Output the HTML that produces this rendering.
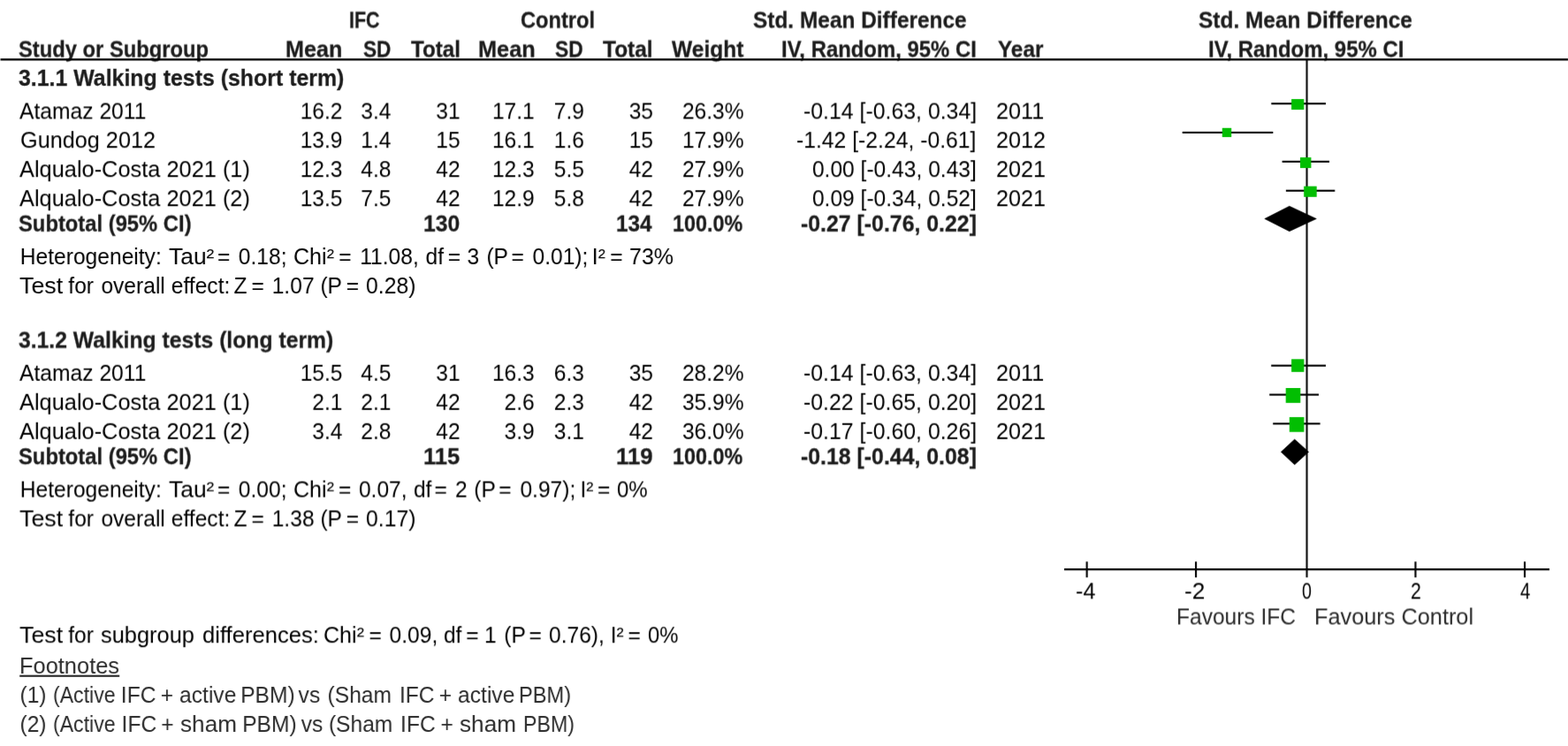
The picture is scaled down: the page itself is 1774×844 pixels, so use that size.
<!DOCTYPE html>
<html lang="en">
<head>
<meta charset="utf-8">
<title>Forest plot: IFC vs Control, walking tests</title>
<style>
html,body{margin:0;padding:0;background:#fff;}
body{width:1774px;height:844px;overflow:hidden;position:relative;font-family:"Liberation Sans", sans-serif;}
#fig{position:absolute;left:0;top:0;width:1774px;height:844px;background:#fff;overflow:hidden;}
#fig .plotwrap{position:absolute;left:0;top:0;width:1774px;height:844px;filter:url(#f0);}
#fig .plotwrap svg{position:absolute;left:0;top:0;display:block;}
#fig .row{position:absolute;left:0;width:1774px;height:30px;}
#fig .s0{filter:url(#f0);}
#fig .s25{filter:url(#f25);}
#fig .s50{filter:url(#f50);}
#fig .s75{filter:url(#f75);}
#fig .row span{position:absolute;top:0.52px;white-space:pre;font-size:24.6px;line-height:30px;height:30px;color:#000;transform-origin:0 23.5px;transform:scaleY(1.055);}
#fig .row span.b{font-weight:bold;color:#1c1c1c;-webkit-text-stroke:0.25px #1c1c1c;}
#fig .row.g span{color:#2a2a2a;}
</style>
</head>
<body>
<svg width="0" height="0" style="position:absolute" aria-hidden="true"><defs>
<filter id="f0" x="0" y="0" width="100%" height="100%" color-interpolation-filters="sRGB"><feConvolveMatrix order="3 4" kernelMatrix="0.00240 0.03520 0.00240  0.05520 0.80960 0.05520  0.00240 0.03520 0.00240  0.00000 0.00000 0.00000" targetX="1" targetY="2" divisor="1" edgeMode="none" preserveAlpha="false"/></filter>
<filter id="f25" x="0" y="0" width="100%" height="100%" color-interpolation-filters="sRGB"><feConvolveMatrix order="3 4" kernelMatrix="0.00180 0.02640 0.00180  0.04200 0.61600 0.04200  0.01560 0.22880 0.01560  0.00060 0.00880 0.00060" targetX="1" targetY="2" divisor="1" edgeMode="none" preserveAlpha="false"/></filter>
<filter id="f50" x="0" y="0" width="100%" height="100%" color-interpolation-filters="sRGB"><feConvolveMatrix order="3 4" kernelMatrix="0.00120 0.01760 0.00120  0.02880 0.42240 0.02880  0.02880 0.42240 0.02880  0.00120 0.01760 0.00120" targetX="1" targetY="2" divisor="1" edgeMode="none" preserveAlpha="false"/></filter>
<filter id="f75" x="0" y="0" width="100%" height="100%" color-interpolation-filters="sRGB"><feConvolveMatrix order="3 4" kernelMatrix="0.00060 0.00880 0.00060  0.01560 0.22880 0.01560  0.04200 0.61600 0.04200  0.00180 0.02640 0.00180" targetX="1" targetY="2" divisor="1" edgeMode="none" preserveAlpha="false"/></filter>
</defs></svg>
<div id="fig">
<div class="row s50" style="top:7px">
<span class="b" style="left:394.93px;transform:scale(0.8725,1.042)">IFC </span>
<span class="b" style="left:588.74px;transform:scale(0.9616,1.042)">Control </span>
<span class="b" style="left:852.00px;transform:scale(0.9935,1.042)">Std. Mean Difference </span>
<span class="b" style="left:1356.00px;transform:scale(0.9943,1.042)">Std. Mean Difference </span>
</div>
<div class="row s50" style="top:40px">
<span class="b" style="left:21.00px;transform:scale(0.9656,1.042)">Study or Subgroup </span>
<span class="b" style="left:322.98px;transform:scale(1.0223,1.042)">Mean </span>
<span class="b" style="left:410.80px;transform:scale(0.9220,1.042)">SD </span>
<span class="b" style="left:464.60px;transform:scale(0.9842,1.042)">Total </span>
<span class="b" style="left:540.67px;transform:scale(1.0305,1.042)">Mean </span>
<span class="b" style="left:628.00px;transform:scale(0.9280,1.042)">SD </span>
<span class="b" style="left:682.20px;transform:scale(0.9949,1.042)">Total </span>
<span class="b" style="left:759.60px;transform:scale(0.9985,1.042)">Weight </span>
<span class="b" style="left:884.03px;transform:scale(0.9712,1.042)">IV, Random, 95% CI </span>
<span class="b" style="left:1129.20px;transform:scale(0.9885,1.042)">Year </span>
<span class="b" style="left:1366.63px;transform:scale(0.9738,1.042)">IV, Random, 95% CI </span>
</div>
<div class="row s0" style="top:73px">
<span class="b" style="left:21.00px;transform:scale(1.0121,1.042)">3.1.1 Walking tests (short term) </span>
</div>
<div class="row s50" style="top:110px">
<span style="left:22.00px;transform:scale(1.0020,1.055)">Atamaz 2011 </span>
<span style="left:339.63px;transform:scale(1.0000,1.055)">16.2 </span>
<span style="left:408.31px;transform:scale(1.0000,1.055)">3.4 </span>
<span style="left:493.24px;transform:scale(1.0000,1.055)">31 </span>
<span style="left:556.93px;transform:scale(1.0000,1.055)">17.1 </span>
<span style="left:626.81px;transform:scale(1.0000,1.055)">7.9 </span>
<span style="left:711.64px;transform:scale(1.0000,1.055)">35 </span>
<span style="left:771.93px;transform:scale(1.0000,1.055)">26.3% </span>
<span style="left:908.69px;transform:scale(1.0103,1.055)">-0.14 [-0.63, 0.34] </span>
<span style="left:1126.57px;transform:scale(1.0250,1.055)">2011 </span>
</div>
<div class="row s25" style="top:143px">
<span style="left:22.57px;transform:scale(1.0266,1.055)">Gundog 2012 </span>
<span style="left:339.63px;transform:scale(1.0000,1.055)">13.9 </span>
<span style="left:408.31px;transform:scale(1.0000,1.055)">1.4 </span>
<span style="left:493.24px;transform:scale(1.0000,1.055)">15 </span>
<span style="left:556.93px;transform:scale(1.0000,1.055)">16.1 </span>
<span style="left:626.81px;transform:scale(1.0000,1.055)">1.6 </span>
<span style="left:711.64px;transform:scale(1.0000,1.055)">15 </span>
<span style="left:771.93px;transform:scale(1.0000,1.055)">17.9% </span>
<span style="left:901.39px;transform:scale(1.0055,1.055)">-1.42 [-2.24, -0.61] </span>
<span style="left:1126.57px;transform:scale(1.0250,1.055)">2012 </span>
</div>
<div class="row s25" style="top:176px">
<span style="left:22.00px;transform:scale(1.0317,1.055)">Alqualo-Costa 2021 (1) </span>
<span style="left:339.63px;transform:scale(1.0000,1.055)">12.3 </span>
<span style="left:408.31px;transform:scale(1.0000,1.055)">4.8 </span>
<span style="left:493.24px;transform:scale(1.0000,1.055)">42 </span>
<span style="left:556.93px;transform:scale(1.0000,1.055)">12.3 </span>
<span style="left:626.81px;transform:scale(1.0000,1.055)">5.5 </span>
<span style="left:711.64px;transform:scale(1.0000,1.055)">42 </span>
<span style="left:771.93px;transform:scale(1.0000,1.055)">27.9% </span>
<span style="left:918.88px;transform:scale(1.0000,1.055)">0.00 [-0.43, 0.43] </span>
<span style="left:1126.57px;transform:scale(1.0250,1.055)">2021 </span>
</div>
<div class="row s25" style="top:209px">
<span style="left:22.00px;transform:scale(1.0317,1.055)">Alqualo-Costa 2021 (2) </span>
<span style="left:339.63px;transform:scale(1.0000,1.055)">13.5 </span>
<span style="left:408.31px;transform:scale(1.0000,1.055)">7.5 </span>
<span style="left:493.24px;transform:scale(1.0000,1.055)">42 </span>
<span style="left:556.93px;transform:scale(1.0000,1.055)">12.9 </span>
<span style="left:626.81px;transform:scale(1.0000,1.055)">5.8 </span>
<span style="left:711.64px;transform:scale(1.0000,1.055)">42 </span>
<span style="left:771.93px;transform:scale(1.0000,1.055)">27.9% </span>
<span style="left:918.88px;transform:scale(1.0000,1.055)">0.09 [-0.34, 0.52] </span>
<span style="left:1126.57px;transform:scale(1.0250,1.055)">2021 </span>
</div>
<div class="row s75" style="top:237px">
<span class="b" style="left:21.00px;transform:scale(0.9670,1.042)">Subtotal (95% CI) </span>
<span class="b" style="left:479.39px;transform:scale(1.0062,1.042)">130 </span>
<span class="b" style="left:697.41px;transform:scale(0.9887,1.042)">134 </span>
<span class="b" style="left:761.35px;transform:scale(0.9510,1.042)">100.0% </span>
<span class="b" style="left:906.30px;transform:scale(1.0104,1.042)">-0.27 [-0.76, 0.22] </span>
</div>
<div class="row s0" style="top:275px">
<span style="left:22.80px;transform:scale(1.0000,1.055)">Heterogeneity: </span>
<span style="left:190.60px;transform:scale(1.0745,1.055)">Tau² </span>
<span style="left:246.00px;transform:scale(1.0000,1.055)">= </span>
<span style="left:269.80px;transform:scale(1.0000,1.055)">0.18; </span>
<span style="left:331.98px;transform:scale(1.0204,1.055)">Chi² </span>
<span style="left:383.30px;transform:scale(1.0000,1.055)">= </span>
<span style="left:407.20px;transform:scale(1.0000,1.055)">11.08, </span>
<span style="left:481.60px;transform:scale(1.0000,1.055)">df </span>
<span style="left:506.80px;transform:scale(1.0000,1.055)">= </span>
<span style="left:528.60px;transform:scale(1.0000,1.055)">3 </span>
<span style="left:550.40px;transform:scale(1.0000,1.055)">(P </span>
<span style="left:578.60px;transform:scale(1.0000,1.055)">= </span>
<span style="left:602.50px;transform:scale(1.0000,1.055)">0.01); </span>
<span style="left:669.80px;transform:scale(1.0000,1.055)">I² </span>
<span style="left:690.20px;transform:scale(1.0000,1.055)">= </span>
<span style="left:711.88px;transform:scale(1.0157,1.055)">73% </span>
</div>
<div class="row s0" style="top:308px">
<span style="left:22.00px;transform:scale(1.0912,1.055)">Test </span>
<span style="left:77.30px;transform:scale(1.0000,1.055)">for </span>
<span style="left:114.40px;transform:scale(1.0000,1.055)">overall </span>
<span style="left:193.80px;transform:scale(1.0000,1.055)">effect: </span>
<span style="left:264.60px;transform:scale(1.0000,1.055)">Z </span>
<span style="left:284.60px;transform:scale(1.0000,1.055)">= </span>
<span style="left:307.70px;transform:scale(1.0000,1.055)">1.07 </span>
<span style="left:362.40px;transform:scale(1.0000,1.055)">(P </span>
<span style="left:391.70px;transform:scale(1.0000,1.055)">= </span>
<span style="left:414.20px;transform:scale(1.0061,1.055)">0.28) </span>
</div>
<div class="row s50" style="top:369px">
<span class="b" style="left:21.00px;transform:scale(1.0051,1.042)">3.1.2 Walking tests (long term) </span>
</div>
<div class="row s75" style="top:406px">
<span style="left:22.00px;transform:scale(1.0020,1.055)">Atamaz 2011 </span>
<span style="left:339.63px;transform:scale(1.0000,1.055)">15.5 </span>
<span style="left:408.31px;transform:scale(1.0000,1.055)">4.5 </span>
<span style="left:493.24px;transform:scale(1.0000,1.055)">31 </span>
<span style="left:556.93px;transform:scale(1.0000,1.055)">16.3 </span>
<span style="left:626.81px;transform:scale(1.0000,1.055)">6.3 </span>
<span style="left:711.64px;transform:scale(1.0000,1.055)">35 </span>
<span style="left:771.93px;transform:scale(1.0000,1.055)">28.2% </span>
<span style="left:908.69px;transform:scale(1.0103,1.055)">-0.14 [-0.63, 0.34] </span>
<span style="left:1126.57px;transform:scale(1.0250,1.055)">2011 </span>
</div>
<div class="row s75" style="top:439px">
<span style="left:22.00px;transform:scale(1.0317,1.055)">Alqualo-Costa 2021 (1) </span>
<span style="left:353.31px;transform:scale(1.0000,1.055)">2.1 </span>
<span style="left:408.31px;transform:scale(1.0000,1.055)">2.1 </span>
<span style="left:493.24px;transform:scale(1.0000,1.055)">42 </span>
<span style="left:570.61px;transform:scale(1.0000,1.055)">2.6 </span>
<span style="left:626.81px;transform:scale(1.0000,1.055)">2.3 </span>
<span style="left:711.64px;transform:scale(1.0000,1.055)">42 </span>
<span style="left:771.93px;transform:scale(1.0000,1.055)">35.9% </span>
<span style="left:908.69px;transform:scale(1.0103,1.055)">-0.22 [-0.65, 0.20] </span>
<span style="left:1126.57px;transform:scale(1.0250,1.055)">2021 </span>
</div>
<div class="row s75" style="top:472px">
<span style="left:22.00px;transform:scale(1.0317,1.055)">Alqualo-Costa 2021 (2) </span>
<span style="left:353.31px;transform:scale(1.0000,1.055)">3.4 </span>
<span style="left:408.31px;transform:scale(1.0000,1.055)">2.8 </span>
<span style="left:493.24px;transform:scale(1.0000,1.055)">42 </span>
<span style="left:570.61px;transform:scale(1.0000,1.055)">3.9 </span>
<span style="left:626.81px;transform:scale(1.0000,1.055)">3.1 </span>
<span style="left:711.64px;transform:scale(1.0000,1.055)">42 </span>
<span style="left:771.93px;transform:scale(1.0000,1.055)">36.0% </span>
<span style="left:908.69px;transform:scale(1.0103,1.055)">-0.17 [-0.60, 0.26] </span>
<span style="left:1126.57px;transform:scale(1.0250,1.055)">2021 </span>
</div>
<div class="row s25" style="top:501px">
<span class="b" style="left:21.00px;transform:scale(0.9670,1.042)">Subtotal (95% CI) </span>
<span class="b" style="left:479.36px;transform:scale(1.0421,1.042)">115 </span>
<span class="b" style="left:697.35px;transform:scale(1.0500,1.042)">119 </span>
<span class="b" style="left:761.35px;transform:scale(0.9510,1.042)">100.0% </span>
<span class="b" style="left:906.30px;transform:scale(1.0104,1.042)">-0.18 [-0.44, 0.08] </span>
</div>
<div class="row s50" style="top:538px">
<span style="left:22.80px;transform:scale(1.0000,1.055)">Heterogeneity: </span>
<span style="left:190.60px;transform:scale(1.0745,1.055)">Tau² </span>
<span style="left:246.00px;transform:scale(1.0000,1.055)">= </span>
<span style="left:269.80px;transform:scale(1.0000,1.055)">0.00; </span>
<span style="left:331.98px;transform:scale(1.0204,1.055)">Chi² </span>
<span style="left:383.00px;transform:scale(1.0000,1.055)">= </span>
<span style="left:405.90px;transform:scale(1.0000,1.055)">0.07, </span>
<span style="left:467.90px;transform:scale(1.0000,1.055)">df </span>
<span style="left:491.50px;transform:scale(1.0000,1.055)">= </span>
<span style="left:515.00px;transform:scale(1.0000,1.055)">2 </span>
<span style="left:536.30px;transform:scale(1.0000,1.055)">(P </span>
<span style="left:564.30px;transform:scale(1.0000,1.055)">= </span>
<span style="left:588.40px;transform:scale(1.0000,1.055)">0.97); </span>
<span style="left:656.40px;transform:scale(1.0000,1.055)">I² </span>
<span style="left:676.00px;transform:scale(1.0000,1.055)">= </span>
<span style="left:698.30px;transform:scale(0.9776,1.055)">0% </span>
</div>
<div class="row s50" style="top:571px">
<span style="left:22.00px;transform:scale(1.0912,1.055)">Test </span>
<span style="left:77.30px;transform:scale(1.0000,1.055)">for </span>
<span style="left:114.40px;transform:scale(1.0000,1.055)">overall </span>
<span style="left:193.80px;transform:scale(1.0000,1.055)">effect: </span>
<span style="left:264.60px;transform:scale(1.0000,1.055)">Z </span>
<span style="left:284.60px;transform:scale(1.0000,1.055)">= </span>
<span style="left:307.70px;transform:scale(1.0000,1.055)">1.38 </span>
<span style="left:362.40px;transform:scale(1.0000,1.055)">(P </span>
<span style="left:391.70px;transform:scale(1.0000,1.055)">= </span>
<span style="left:414.20px;transform:scale(1.0061,1.055)">0.17) </span>
</div>
<div class="row s25" style="top:703px">
<span style="left:22.00px;transform:scale(1.0912,1.055)">Test </span>
<span style="left:77.20px;transform:scale(1.0000,1.055)">for </span>
<span style="left:114.10px;transform:scale(1.0336,1.055)">subgroup </span>
<span style="left:229.16px;transform:scale(1.0415,1.055)">differences: </span>
<span style="left:365.98px;transform:scale(1.0204,1.055)">Chi² </span>
<span style="left:417.40px;transform:scale(1.0000,1.055)">= </span>
<span style="left:440.60px;transform:scale(1.0000,1.055)">0.09, </span>
<span style="left:501.90px;transform:scale(1.0000,1.055)">df </span>
<span style="left:527.30px;transform:scale(1.0000,1.055)">= </span>
<span style="left:548.10px;transform:scale(1.0000,1.055)">1 </span>
<span style="left:570.20px;transform:scale(1.0000,1.055)">(P </span>
<span style="left:598.40px;transform:scale(1.0000,1.055)">= </span>
<span style="left:621.00px;transform:scale(1.0000,1.055)">0.76), </span>
<span style="left:690.70px;transform:scale(1.0000,1.055)">I² </span>
<span style="left:710.60px;transform:scale(1.0000,1.055)">= </span>
<span style="left:733.00px;transform:scale(0.9689,1.055)">0% </span>
</div>
<div class="row s0 g" style="top:738px">
<span style="left:22.03px;transform:scale(1.0338,1.055)">Footnotes </span>
</div>
<div class="row s0 g" style="top:771px">
<span style="left:22.50px;transform:scale(1.0000,1.055)">(1) </span>
<span style="left:59.86px;transform:scale(0.9390,1.055)">(Active </span>
<span style="left:136.80px;transform:scale(1.0000,1.055)">IFC </span>
<span style="left:181.70px;transform:scale(1.0000,1.055)">+ </span>
<span style="left:203.10px;transform:scale(1.0000,1.055)">active </span>
<span style="left:272.20px;transform:scale(1.0000,1.055)">PBM) </span>
<span style="left:337.60px;transform:scale(1.0000,1.055)">vs </span>
<span style="left:370.60px;transform:scale(1.0000,1.055)">(Sham </span>
<span style="left:452.00px;transform:scale(1.0000,1.055)">IFC </span>
<span style="left:496.70px;transform:scale(1.0000,1.055)">+ </span>
<span style="left:518.10px;transform:scale(1.0000,1.055)">active </span>
<span style="left:587.38px;transform:scale(0.9624,1.055)">PBM) </span>
</div>
<div class="row s0 g" style="top:804px">
<span style="left:22.50px;transform:scale(1.0000,1.055)">(2) </span>
<span style="left:59.96px;transform:scale(0.9390,1.055)">(Active </span>
<span style="left:137.60px;transform:scale(1.0000,1.055)">IFC </span>
<span style="left:182.20px;transform:scale(1.0000,1.055)">+ </span>
<span style="left:203.60px;transform:scale(1.0639,1.055)">sham </span>
<span style="left:274.20px;transform:scale(1.0000,1.055)">PBM) </span>
<span style="left:340.80px;transform:scale(1.0000,1.055)">vs </span>
<span style="left:371.90px;transform:scale(1.0000,1.055)">(Sham </span>
<span style="left:453.10px;transform:scale(1.0000,1.055)">IFC </span>
<span style="left:498.50px;transform:scale(1.0000,1.055)">+ </span>
<span style="left:520.20px;transform:scale(1.0639,1.055)">sham </span>
<span style="left:591.92px;transform:scale(0.9418,1.055)">PBM) </span>
</div>
<div class="row s50" style="top:653px">
<span style="left:1217.27px;transform:scale(1.0253,1.055)">-4 </span>
<span style="left:1340.33px;transform:scale(1.0698,1.055)">-2 </span>
<span style="left:1473.10px;transform:scale(0.8000,1.055)">0 </span>
<span style="left:1595.83px;transform:scale(0.8667,1.055)">2 </span>
<span style="left:1719.80px;transform:scale(0.8308,1.055)">4 </span>
</div>
<div class="row s50 g" style="top:682px">
<span style="left:1331.00px;transform:scale(0.9983,1.055)">Favours IFC </span>
<span style="left:1486.94px;transform:scale(1.0292,1.055)">Favours Control </span>
</div>
<div class="plotwrap">
<svg width="1774" height="844" viewBox="0 0 1774 844">
<g fill="#000">
<rect x="0.5" y="66.2" width="1773.5" height="2.3"/>
<rect x="1477.5" y="68" width="2.05" height="585.3"/>
<rect x="1204" y="643.1" width="549" height="2.2"/>
<rect x="1228.6" y="635.4" width="2.1" height="17.9"/>
<rect x="1352" y="635.4" width="2.1" height="17.9"/>
<rect x="1600.4" y="635.4" width="2.1" height="17.9"/>
<rect x="1724" y="635.4" width="2.1" height="17.9"/>
<rect x="1438.3" y="116.2" width="61.7" height="2.1"/>
<rect x="1337.7" y="148.9" width="102.6" height="2.1"/>
<rect x="1450.6" y="181.8" width="53.4" height="2.1"/>
<rect x="1454.9" y="214.7" width="55.4" height="2.1"/>
<rect x="1438.2" y="412.6" width="61.8" height="2.1"/>
<rect x="1436.2" y="445.5" width="55.8" height="2.1"/>
<rect x="1440.2" y="478.3" width="53.4" height="2.1"/>
</g>
<g fill="#02be02">
<rect x="1461.1" y="112.1" width="14.2" height="12"/>
<rect x="1382.8" y="144.8" width="10.4" height="10.3"/>
<rect x="1471" y="178.1" width="12.4" height="12"/>
<rect x="1475.2" y="210.7" width="14.5" height="12.1"/>
<rect x="1461.1" y="406.3" width="14.3" height="14.5"/>
<rect x="1454.7" y="439" width="16.6" height="16.8"/>
<rect x="1458.8" y="471.9" width="16.6" height="16.8"/>
</g>
<g fill="#000" stroke="#000" stroke-width="0.6" stroke-linejoin="round">
<polygon points="1430.8,247.5 1458.8,233.2 1489.3,247.5 1458.8,261.7"/>
<polygon points="1449.3,511.3 1464.7,497.0 1480.6,511.3 1464.7,525.7"/>
</g>
<rect x="22.2" y="763.7" width="113" height="2.1" fill="#222"/>
</svg>
</div>
</div>
</body>
</html>
